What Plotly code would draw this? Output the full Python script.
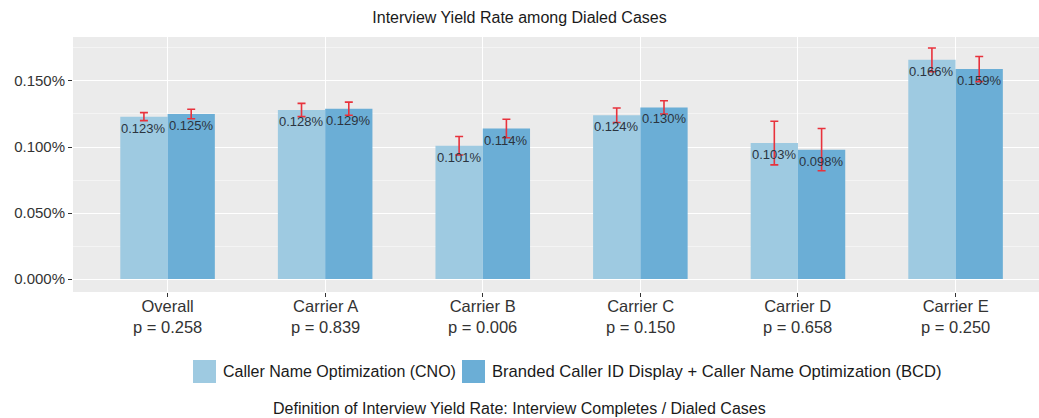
import plotly.graph_objects as go

# Interview yield rate (percent) per carrier, two treatment groups
categories = ["Overall", "Carrier A", "Carrier B", "Carrier C", "Carrier D", "Carrier E"]
p_values = ["0.258", "0.839", "0.006", "0.150", "0.658", "0.250"]
cno_rate = [0.123, 0.128, 0.101, 0.124, 0.103, 0.166]
cno_err = [0.003, 0.005, 0.007, 0.0055, 0.0165, 0.009]
bcd_rate = [0.125, 0.129, 0.114, 0.130, 0.098, 0.159]
bcd_err = [0.0036, 0.005, 0.007, 0.005, 0.016, 0.0095]
series_names = ["Caller Name Optimization (CNO)",
                "Branded Caller ID Display + Caller Name Optimization (BCD)"]
y_ticks = [0.0, 0.05, 0.10, 0.15]

FONT = "Liberation Sans, Arial, sans-serif"
CNO_COLOR = "#9ecae1"
BCD_COLOR = "#6baed6"
W, H = 1039, 418
M_L, M_R, M_T, M_B = 73, 0, 37, 126
PW, PH = W - M_L - M_R, H - M_T - M_B

BAR_W = 0.3
x_idx = list(range(len(categories)))


def px_x(px):
    return (px - M_L) / PW


def px_y(py):
    return (H - M_B - py) / PH


fig = go.Figure()
for rates, errs, color, shift, name in [
    (cno_rate, cno_err, CNO_COLOR, -BAR_W / 2, series_names[0]),
    (bcd_rate, bcd_err, BCD_COLOR, BAR_W / 2, series_names[1]),
]:
    xs = [i + shift for i in x_idx]
    fig.add_trace(go.Bar(
        x=xs, y=rates, width=BAR_W, name=name, marker_color=color,
        marker_line_width=0, showlegend=False,
        error_y=dict(type="data", array=errs, visible=True,
                     color="#e8323c", thickness=1.6, width=4),
    ))
    for x, v in zip(xs, rates):
        fig.add_annotation(
            x=x, y=v, text=f"{v:.3f}%", showarrow=False,
            yanchor="top", yshift=-2, xanchor="center",
            font=dict(family=FONT, size=13, color="#2b3440"),
        )

# two-line category labels: name and p-value
for i, c, p in zip(x_idx, categories, p_values):
    fig.add_annotation(x=i, xref="x", yref="paper", y=px_y(316.5),
                       text=f"{c}<br>p = {p}", showarrow=False,
                       xanchor="center", yanchor="middle", align="center",
                       font=dict(family=FONT, size=16.5, color="#333333"))

# legend drawn as swatches + labels under the panel
legend_items = [(193, CNO_COLOR, series_names[0], 16.0),
                (462, BCD_COLOR, series_names[1], 16.6)]
for lx, color, label, fsize in legend_items:
    fig.add_shape(type="rect", xref="paper", yref="paper",
                  x0=px_x(lx), x1=px_x(lx + 23), y0=px_y(383), y1=px_y(360),
                  fillcolor=color, line_width=0)
    fig.add_annotation(xref="paper", yref="paper", x=px_x(lx + 28), y=px_y(371.5),
                       text=label, showarrow=False, xanchor="left", yanchor="middle",
                       font=dict(family=FONT, size=fsize, color="#1a1a1a"))

fig.add_annotation(xref="paper", yref="paper", x=px_x(519.5), y=px_y(408),
                   text="Definition of Interview Yield Rate: Interview Completes / Dialed Cases",
                   showarrow=False, xanchor="center", yanchor="middle",
                   font=dict(family=FONT, size=16, color="#1a1a1a"))

fig.update_layout(
    width=W, height=H,
    margin=dict(l=M_L, r=M_R, t=M_T, b=M_B),
    paper_bgcolor="white", plot_bgcolor="#ebebeb",
    barmode="overlay",
    title=dict(text="Interview Yield Rate among Dialed Cases", x=519.5 / W,
               xanchor="center", y=1 - 17 / H, yanchor="middle",
               font=dict(family=FONT, size=16, color="#1a1a1a")),
    xaxis=dict(
        range=[-0.6, -0.6 + PW / 157.6],
        tickvals=x_idx,
        showticklabels=False,
        showgrid=True, gridcolor="white", gridwidth=1.2,
        ticks="outside", ticklen=4, tickcolor="#333333",
        zeroline=False, fixedrange=True,
    ),
    yaxis=dict(
        range=[-0.0098, 0.1833],
        tickvals=y_ticks,
        ticktext=[f"{v:.3f}%" for v in y_ticks],
        tickfont=dict(family=FONT, size=15, color="#333333"),
        showgrid=True, gridcolor="white", gridwidth=1.2,
        minor=dict(dtick=0.025, tick0=0.025, showgrid=True, gridcolor="#f4f4f4", gridwidth=0.6),
        ticks="outside", ticklen=4, tickcolor="#333333",
        zeroline=False, fixedrange=True,
    ),
    font=dict(family=FONT),
)

fig.write_html("out.html")
